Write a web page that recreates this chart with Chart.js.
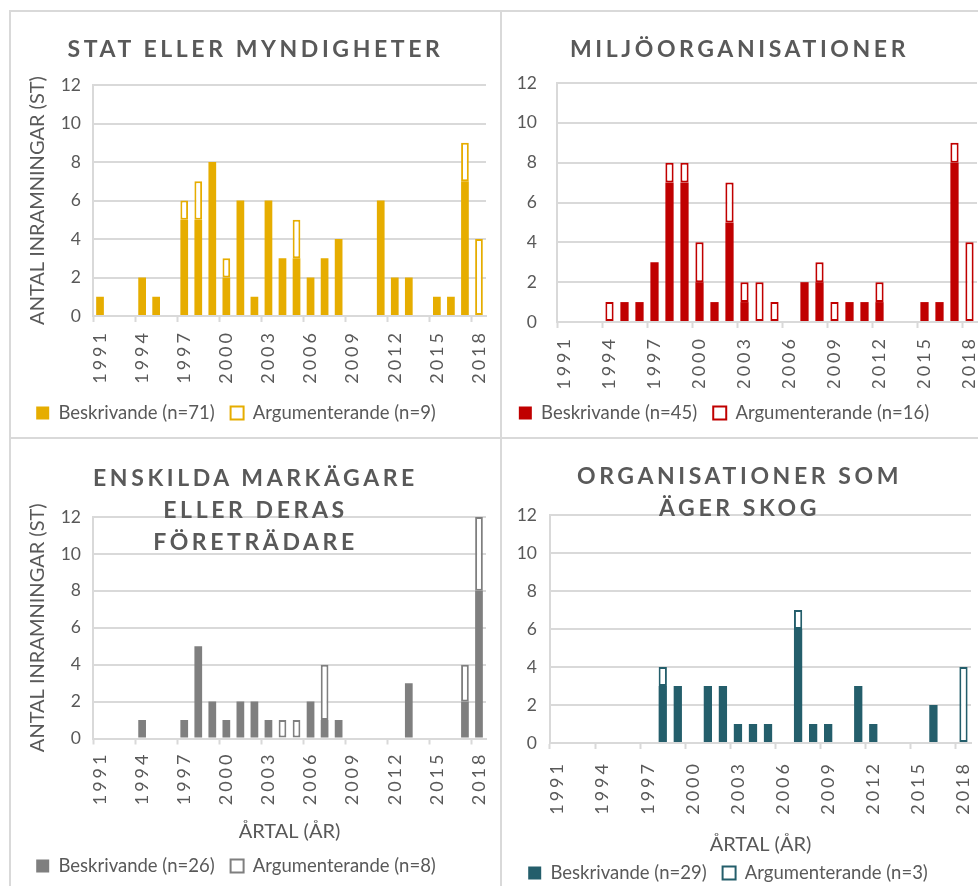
<!DOCTYPE html>
<html>
<head>
<meta charset="utf-8">
<script src="https://cdn.jsdelivr.net/npm/chart.js@4/dist/chart.umd.min.js"></script>
<style>
    html, body { margin: 0; padding: 0; width: 978px; height: 886px; overflow: hidden; background: #fff; }
    canvas { position: absolute; }
    .line { position: absolute; background: #D9D9D9; }
    .title {
        position: absolute; text-align: center; color: #595959;
        font-family: Lato, "Open Sans", sans-serif; font-weight: 700;
        font-size: 23px; letter-spacing: 3.6px; line-height: 32px;
    }
</style>
</head>
<body>
<div class="line" style="left:9px;top:10px;width:969px;height:2px"></div>
<div class="line" style="left:9px;top:10px;width:2px;height:876px"></div>
<div class="line" style="left:500px;top:10px;width:2px;height:876px"></div>
<div class="line" style="left:9px;top:437px;width:969px;height:2px"></div>

<canvas id="stat" width="491" height="427" style="left:10px;top:11px"></canvas>
<canvas id="miljo" width="477" height="427" style="left:501px;top:11px"></canvas>
<canvas id="mark" width="491" height="470" style="left:10px;top:438px"></canvas>
<canvas id="skog" width="477" height="470" style="left:501px;top:438px"></canvas>

<div class="title" style="left:10px;top:32px;width:491px">STAT ELLER MYNDIGHETER</div>
<div class="title" style="left:501px;top:32px;width:477px">MILJÖORGANISATIONER</div>
<div class="title" style="left:10px;top:461px;width:491px">ENSKILDA MARKÄGARE<br>ELLER DERAS<br>FÖRETRÄDARE</div>
<div class="title" style="left:501px;top:459px;width:477px">ORGANISATIONER SOM<br>ÄGER SKOG</div>

<script>
// Years on the x axis
const years = ['1991', '1992', '1993', '1994', '1995', '1996', '1997', '1998', '1999', '2000',
    '2001', '2002', '2003', '2004', '2005', '2006', '2007', '2008', '2009', '2010',
    '2011', '2012', '2013', '2014', '2015', '2016', '2017', '2018'];
const yTicks = [0, 2, 4, 6, 8, 10, 12];

// Stat eller myndigheter
const statDesc = [1, 0, 0, 2, 1, 0, 5, 5, 8, 2, 6, 1, 6, 3, 3, 2, 3, 4, 0, 0, 6, 2, 2, 0, 1, 1, 7, 0];
const statArg  = [0, 0, 0, 0, 0, 0, 1, 2, 0, 1, 0, 0, 0, 0, 2, 0, 0, 0, 0, 0, 0, 0, 0, 0, 0, 0, 2, 4];
const statLegend = ['Beskrivande (n=71)', 'Argumenterande (n=9)'];

// Miljöorganisationer
const miljoDesc = [0, 0, 0, 0, 1, 1, 3, 7, 7, 2, 1, 5, 1, 0, 0, 0, 2, 2, 0, 1, 1, 1, 0, 0, 1, 1, 8, 0];
const miljoArg  = [0, 0, 0, 1, 0, 0, 0, 1, 1, 2, 0, 2, 1, 2, 1, 0, 0, 1, 1, 0, 0, 1, 0, 0, 0, 0, 1, 4];
const miljoLegend = ['Beskrivande (n=45)', 'Argumenterande (n=16)'];

// Enskilda markägare eller deras företrädare
const markDesc = [0, 0, 0, 1, 0, 0, 1, 5, 2, 1, 2, 2, 1, 0, 0, 2, 1, 1, 0, 0, 0, 0, 3, 0, 0, 0, 2, 8];
const markArg  = [0, 0, 0, 0, 0, 0, 0, 0, 0, 0, 0, 0, 0, 1, 1, 0, 3, 0, 0, 0, 0, 0, 0, 0, 0, 0, 2, 4];
const markLegend = ['Beskrivande (n=26)', 'Argumenterande (n=8)'];

// Organisationer som äger skog
const skogDesc = [0, 0, 0, 0, 0, 0, 0, 3, 3, 0, 3, 3, 1, 1, 1, 0, 6, 1, 1, 0, 3, 1, 0, 0, 0, 2, 0, 0];
const skogArg  = [0, 0, 0, 0, 0, 0, 0, 1, 0, 0, 0, 0, 0, 0, 0, 0, 1, 0, 0, 0, 0, 0, 0, 0, 0, 0, 0, 4];
const skogLegend = ['Beskrivande (n=29)', 'Argumenterande (n=3)'];

const yTitle = 'ANTAL INRAMNINGAR (ST)';
const xTitle = 'ÅRTAL (ÅR)';

const textColor = '#595959';
const gridColor = '#D9D9D9';

// Excel spreads the rotated year labels a little, do the same on the x axis only
const spacedYears = {
    id: 'spacedYears',
    beforeDraw(chart) {
        const scale = chart.scales.x;
        if (scale.spaced) return;
        const draw = scale.drawLabels;
        scale.drawLabels = function (area) {
            chart.ctx.save();
            chart.ctx.letterSpacing = '3px';
            draw.call(this, area);
            chart.ctx.restore();
        };
        scale.spaced = true;
    }
};

// Nudge the legend sideways, the Excel legends are not quite centred
const shiftLegend = {
    id: 'shiftLegend',
    afterLayout(chart, args, opts) {
        chart.legend.left += opts.dx;
        chart.legend.right += opts.dx;
    }
};

const drawPanel = function (id, desc, arg, legend, color, o) {
    return new Chart(document.getElementById(id), {
        type: 'bar',
        data: {
            labels: years,
            datasets: [{
                label: legend[0],
                data: desc,
                backgroundColor: color,
                borderWidth: 0,
                barPercentage: 0.55,
                categoryPercentage: 1
            }, {
                label: legend[1],
                data: arg.map(v => v || null),
                backgroundColor: '#ffffff',
                borderColor: color,
                borderWidth: 2,
                borderSkipped: false,
                barPercentage: 0.55,
                categoryPercentage: 1
            }]
        },
        options: {
            responsive: false,
            animation: false,
            devicePixelRatio: 1,
            layout: { padding: o.pad },
            plugins: {
                legend: {
                    position: 'bottom',
                    labels: {
                        boxWidth: 13, boxHeight: 13, padding: 16,
                        color: textColor,
                        font: { family: 'Lato', size: 18.5 }
                    }
                },
                shiftLegend: { dx: o.legendDx },
                tooltip: { enabled: false }
            },
            scales: {
                x: {
                    stacked: true,
                    grid: {
                        offset: true,
                        drawOnChartArea: false,
                        tickLength: 6,
                        tickWidth: 2,
                        tickColor: c => c.index % 3 === 0 ? gridColor : 'rgba(0,0,0,0)'
                    },
                    border: { color: gridColor, width: 2 },
                    ticks: {
                        autoSkip: false,
                        minRotation: 90,
                        maxRotation: 90,
                        padding: o.xPad,
                        color: textColor,
                        font: { family: 'Lato', size: 18 },
                        callback: function (v, i) {
                            return i % 3 === 0 ? this.getLabelForValue(v) : '';
                        }
                    },
                    title: {
                        display: o.xTitle,
                        text: xTitle,
                        color: textColor,
                        font: { family: 'Lato', size: 20 },
                        padding: { top: 0, bottom: o.xTitlePad || 0 }
                    },
                    afterFit: s => {
                        s.height = o.xh;
                        s.paddingLeft = 0;
                        s.paddingRight = 0;
                    }
                },
                y: {
                    stacked: true,
                    min: yTicks[0],
                    max: yTicks[yTicks.length - 1],
                    ticks: {
                        stepSize: yTicks[1] - yTicks[0],
                        padding: o.yPad,
                        color: textColor,
                        font: { family: 'Lato', size: 17.5 }
                    },
                    grid: { color: gridColor, lineWidth: 2, drawTicks: false },
                    border: { color: gridColor, width: 2 },
                    title: {
                        display: o.yTitle,
                        text: yTitle,
                        color: textColor,
                        font: { family: 'Lato', size: 20 },
                        padding: { top: 16, bottom: 0 }
                    },
                    afterFit: s => {
                        s.width = o.yw;
                        s.paddingTop = 0;
                        s.paddingBottom = 0;
                    }
                }
            }
        },
        plugins: [spacedYears, shiftLegend]
    });
};

drawPanel('stat', statDesc, statArg, statLegend, '#E6AD00', {
    pad: { left: 0, right: 15, top: 74, bottom: 5.75 }, yw: 83, xh: 71.75, xPad: 8, yPad: 12,
    yTitle: true, xTitle: false, legendDx: -12
});
drawPanel('miljo', miljoDesc, miljoArg, miljoLegend, '#C00000', {
    pad: { left: 0, right: 1, top: 72, bottom: 5.75 }, yw: 56, xh: 65.75, xPad: 8, yPad: 20,
    yTitle: false, xTitle: false, legendDx: -15
});
drawPanel('mark', markDesc, markArg, markLegend, '#7F7F7F', {
    pad: { left: 0, right: 15, top: 79, bottom: 22.75 }, yw: 83, xh: 102.25, xPad: 7, xTitlePad: -3.25, yPad: 12,
    yTitle: true, xTitle: true, legendDx: -12
});
drawPanel('skog', skogDesc, skogArg, skogLegend, '#245E6B', {
    pad: { left: 0, right: 7, top: 77, bottom: 15.75 }, yw: 49, xh: 104.75, xPad: 12, xTitlePad: -9.25, yPad: 13,
    yTitle: false, xTitle: true, legendDx: -8
});
</script>
</body>
</html>
